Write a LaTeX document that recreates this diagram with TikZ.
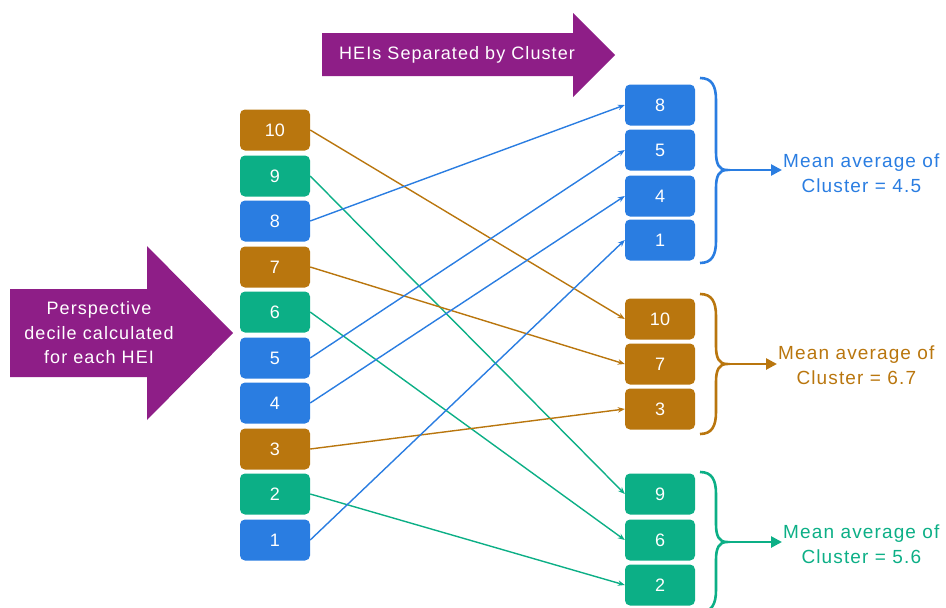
\documentclass[tikz,border=0pt]{standalone}
\usepackage{fontspec}
\setmainfont{Liberation Sans}
\newfontfamily\widesans[LetterSpace=6]{Liberation Sans}
\usetikzlibrary{arrows.meta}
\definecolor{heiblue}{RGB}{42,125,225}
\definecolor{heibrown}{RGB}{185,118,14}
\definecolor{heigreen}{RGB}{12,175,134}
\definecolor{heipurple}{RGB}{142,30,135}
\begin{document}
\begin{tikzpicture}[x=1pt, y=-1pt,
  box/.style={rounded corners=5pt, minimum width=70pt, minimum height=41pt,
    inner sep=0pt, text=white, font=\fontsize{18}{20}\selectfont},
  link/.style={line width=1.4pt, -{Stealth[length=7pt,width=5.5pt]}},
  brace/.style={line width=2.6pt},
  meanarrow/.style={line width=2.6pt, -{Triangle[length=11pt,width=11pt]}},
  mean/.style={align=center, inner xsep=1pt, inner ysep=0pt,
    font=\widesans\fontsize{19}{24.5}\selectfont},
  banner/.style={align=center, text=white, inner sep=0pt,
    font=\widesans\fontsize{18}{24.5}\selectfont}]
  \useasboundingbox (0,0) rectangle (946,608);

  % purple arrows
  \fill[heipurple] (10,289) -- (147,289) -- (147,246) -- (233,333)
    -- (147,420) -- (147,377) -- (10,377) -- cycle;
  \node[banner] (decile) at (99,333) {Perspective\\decile calculated\\for each HEI};
  \fill[heipurple] (322,33) -- (573,33) -- (573,13) -- (615,55)
    -- (573,97) -- (573,76) -- (322,76) -- cycle;
  \node[banner] (sep) at (457,55) {HEIs Separated by Cluster};

  % deciles per HEI
  \node[box, fill=heibrown] (l10) at (275,130) {10};
  \node[box, fill=heigreen] (l9) at (275,176) {9};
  \node[box, fill=heiblue]  (l8) at (275,221) {8};
  \node[box, fill=heibrown] (l7) at (275,267) {7};
  \node[box, fill=heigreen] (l6) at (275,312) {6};
  \node[box, fill=heiblue]  (l5) at (275,358) {5};
  \node[box, fill=heiblue]  (l4) at (275,403) {4};
  \node[box, fill=heibrown] (l3) at (275,449) {3};
  \node[box, fill=heigreen] (l2) at (275,494) {2};
  \node[box, fill=heiblue]  (l1) at (275,540) {1};

  % clusters
  \node[box, fill=heiblue]  (r8) at (660,105) {8};
  \node[box, fill=heiblue]  (r5) at (660,150) {5};
  \node[box, fill=heiblue]  (r4) at (660,196) {4};
  \node[box, fill=heiblue]  (r1) at (660,240) {1};
  \node[box, fill=heibrown] (r10) at (660,319) {10};
  \node[box, fill=heibrown] (r7) at (660,364) {7};
  \node[box, fill=heibrown] (r3) at (660,409) {3};
  \node[box, fill=heigreen] (r9) at (660,494) {9};
  \node[box, fill=heigreen] (r6) at (660,540) {6};
  \node[box, fill=heigreen] (r2) at (660,585) {2};

  \draw[link, heibrown] (l10.east) -- (r10.west);
  \draw[link, heigreen] (l9.east) -- (r9.west);
  \draw[link, heiblue] (l8.east) -- (r8.west);
  \draw[link, heibrown] (l7.east) -- (r7.west);
  \draw[link, heigreen] (l6.east) -- (r6.west);
  \draw[link, heiblue] (l5.east) -- (r5.west);
  \draw[link, heiblue] (l4.east) -- (r4.west);
  \draw[link, heibrown] (l3.east) -- (r3.west);
  \draw[link, heigreen] (l2.east) -- (r2.west);
  \draw[link, heiblue] (l1.east) -- (r1.west);

  % braces and means
  \draw[brace, heiblue] (700,78) .. controls (712,78) and (716,86) .. (716,100)
    -- (716,152) .. controls (716,164) and (719,170) .. (727,170)
    .. controls (719,170) and (716,176) .. (716,188)
    -- (716,241) .. controls (716,255) and (712,263) .. (700,263);
  \coordinate (b1) at (727,170);
  \node[mean, heiblue, anchor=west] (m1) at (782,173) {Mean average of\\Cluster = 4.5};
  \draw[meanarrow, heiblue] (b1) -- (b1 -| m1.west);

  \draw[brace, heibrown] (700,294) .. controls (712,294) and (716,302) .. (716,316)
    -- (716,346) .. controls (716,358) and (719,364) .. (727,364)
    .. controls (719,364) and (716,370) .. (716,382)
    -- (716,412) .. controls (716,426) and (712,434) .. (700,434);
  \coordinate (b2) at (727,364);
  \node[mean, heibrown, anchor=west] (m2) at (777,365) {Mean average of\\Cluster = 6.7};
  \draw[meanarrow, heibrown] (b2) -- (b2 -| m2.west);

  \draw[brace, heigreen] (700,472) .. controls (712,472) and (716,480) .. (716,494)
    -- (716,524) .. controls (716,536) and (719,542) .. (727,542)
    .. controls (719,542) and (716,548) .. (716,560)
    -- (716,590) .. controls (716,604) and (712,612) .. (700,612);
  \coordinate (b3) at (727,542);
  \node[mean, heigreen, anchor=west] (m3) at (782,544) {Mean average of\\Cluster = 5.6};
  \draw[meanarrow, heigreen] (b3) -- (b3 -| m3.west);
\end{tikzpicture}
\end{document}
